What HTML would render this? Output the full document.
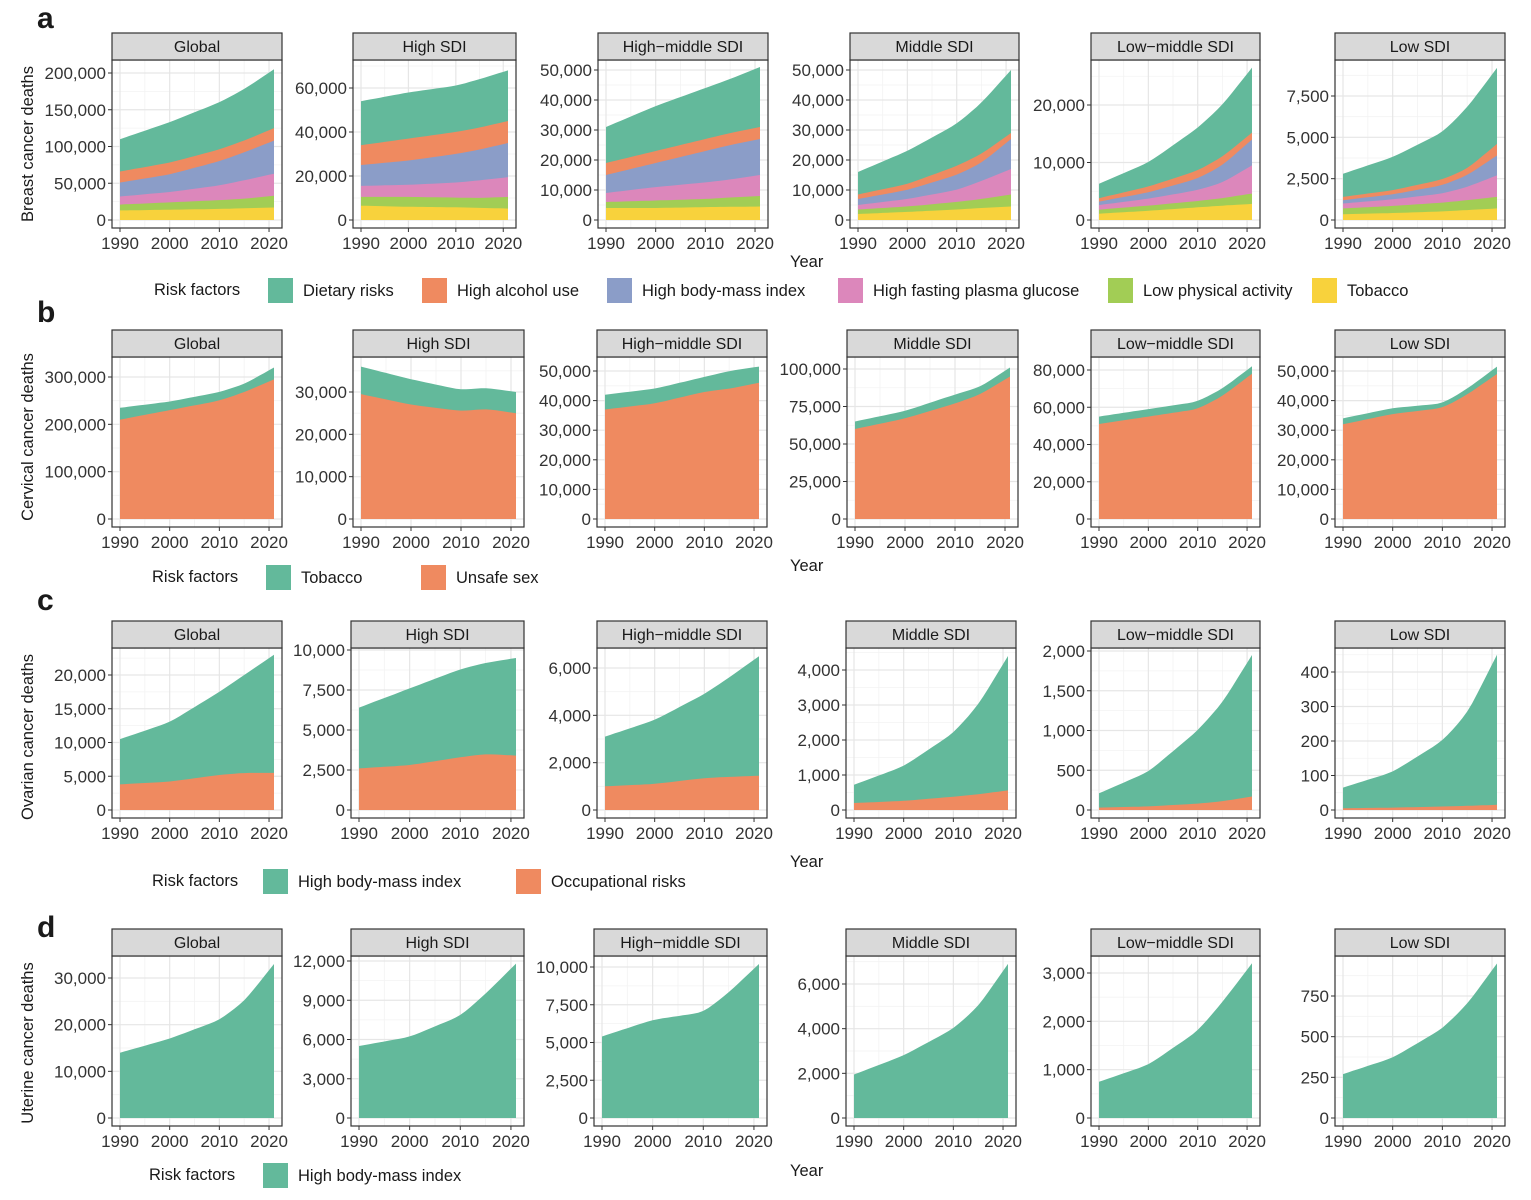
<!DOCTYPE html>
<html><head><meta charset="utf-8"><style>
body{margin:0;background:#fff;}
svg{display:block;font-family:"Liberation Sans",Arial,sans-serif;}
</style></head><body>
<svg id="s" width="1531" height="1200" viewBox="0 0 1531 1200" xmlns="http://www.w3.org/2000/svg"></svg>
<script>
var C={diet:"#63b99b",alc:"#ef8a60",bmi:"#8b9dc8",fpg:"#dc87bb",lpa:"#a2cd55",tob:"#f8d23c",uns:"#ef8a60",occ:"#ef8a60",grn:"#63b99b"};
var AY=[1990,2000,2010,2015,2021];
function series(v){var out=[];for(var y=1990;y<=2021;y++){var i=0;while(i<AY.length-2&&y>AY[i+1])i++;var t=(y-AY[i])/(AY[i+1]-AY[i]);out.push(v[i]+(v[i+1]-v[i])*t);}
for(var r=0;r<2;r++){var n=out.slice();for(var j=1;j<out.length-1;j++)n[j]=(out[j-1]+out[j]+out[j+1])/3;out=n;}return out;}
var svg="";
function fmt(v){return v.toLocaleString("en-US");}
function panel(x0,x1,yt,yb,title,T,P,step,maxT,layers){
 var yz=yb-8,k=(yz-P)/T,st=yt-27;
 var xs=x0+8,xe=x1-8,px=(xe-xs)/31;
 var g="";
 g+='<rect x="'+x0+'" y="'+yt+'" width="'+(x1-x0)+'" height="'+(yb-yt)+'" fill="#fff"/>';
 for(var v=step/2;yz-v*k>yt;v+=step){var yy=yz-v*k;g+='<line x1="'+x0+'" x2="'+x1+'" y1="'+yy+'" y2="'+yy+'" stroke="#f3f3f3" stroke-width="0.8"/>';}
 [1995,2005,2015].forEach(function(y){var xx=xs+(y-1990)*px;g+='<line x1="'+xx+'" x2="'+xx+'" y1="'+yt+'" y2="'+yb+'" stroke="#f3f3f3" stroke-width="0.8"/>';});
 for(var v=0;v<=maxT;v+=step){var yy=yz-v*k;g+='<line x1="'+x0+'" x2="'+x1+'" y1="'+yy+'" y2="'+yy+'" stroke="#e6e6e6" stroke-width="1.2"/>';}
 [1990,2000,2010,2020].forEach(function(y){var xx=xs+(y-1990)*px;g+='<line x1="'+xx+'" x2="'+xx+'" y1="'+yt+'" y2="'+yb+'" stroke="#e6e6e6" stroke-width="1.2"/>';});
 for(var L=layers.length-1;L>=0;L--){var s=series(layers[L][1]);var d="M"+xs+","+yz;
  for(var i=0;i<32;i++)d+=" L"+(xs+i*px).toFixed(1)+","+(yz-s[i]*k).toFixed(1);
  d+=" L"+xe+","+yz+" Z";g+='<path d="'+d+'" fill="'+layers[L][0]+'"/>';}
 g+='<rect x="'+x0+'" y="'+yt+'" width="'+(x1-x0)+'" height="'+(yb-yt)+'" fill="none" stroke="#333" stroke-width="1.2"/>';
 g+='<rect x="'+x0+'" y="'+st+'" width="'+(x1-x0)+'" height="27" fill="#d9d9d9" stroke="#333" stroke-width="1.2"/>';
 g+='<text x="'+((x0+x1)/2)+'" y="'+(st+19)+'" font-size="16" text-anchor="middle" fill="#1a1a1a">'+title+'</text>';
 for(var v=0;v<=maxT;v+=step){var yy=yz-v*k;g+='<line x1="'+(x0-4)+'" x2="'+x0+'" y1="'+yy+'" y2="'+yy+'" stroke="#333"/>';
  g+='<text x="'+(x0-6)+'" y="'+(yy+6)+'" font-size="17" text-anchor="end" fill="#333">'+fmt(v)+'</text>';}
 [1990,2000,2010,2020].forEach(function(y){var xx=xs+(y-1990)*px;g+='<line x1="'+xx+'" x2="'+xx+'" y1="'+yb+'" y2="'+(yb+4)+'" stroke="#333"/>';
  g+='<text x="'+xx+'" y="'+(yb+21)+'" font-size="17" text-anchor="middle" fill="#333">'+y+'</text>';});
 svg+=g;
}
function cum(cols,arr){return arr.map(function(a,i){return [cols[i],a];});}
var A=["tob","lpa","fpg","bmi","alc","diet"].map(function(c){return C[c];});
function T6(rows){var out=[];for(var l=0;l<6;l++){out.push(rows.map(function(r){return r[l];}));}return out;}
var ra=[[112,282],[353,516],[598,768],[850,1019],[1091,1260],[1335,1505]];
var titles=["Global","High SDI","High\u2212middle SDI","Middle SDI","Low\u2212middle SDI","Low SDI"];
var aData=[
 [[13,21,32,51,66,110],[14,24,38,62,78,133],[15,27,47,80,96,160],[16,29,54,92,108,178],[17,33,63,108,125,205]],
 [[6.5,10.5,15.5,25,34,54],[6,10.5,16,27,37,58],[5.8,10.2,17,30,40,61],[5.5,10,18,32,42,64],[5.2,10.5,19.5,35,45,68]],
 [[4,6,9,15,19,31],[4,6.5,11,19,23,38],[4.3,7,12.5,23,27,44],[4.4,7.5,13.5,25,29,47],[4.5,8,15,27,31,51]],
 [[2,3.5,5,7,8.5,16],[2.7,4.5,7,10,12,23],[3.5,6,10,15,18,32],[4,7,13,19,22,39],[4.5,8.5,17,27,29,50]],
 [[1.1,1.8,2.6,3.2,3.8,6.3],[1.6,2.5,3.7,4.8,5.8,10],[2.2,3.3,5.2,7.2,8.6,16],[2.5,3.8,6.5,9.5,11,20],[2.8,4.6,9.5,14,15.2,26.5]],
 [[.35,.7,1,1.2,1.4,2.8],[.42,.85,1.25,1.55,1.8,3.8],[.52,1.05,1.6,2.1,2.45,5.3],[.6,1.2,2,2.7,3.1,6.8],[.7,1.4,2.7,3.9,4.6,9.2]]];
var aAx=[[200000,73,50000,200000],[60000,88,20000,60000],[50000,70,10000,50000],[50000,70,10000,50000],[20000,105,10000,20000],[7500,96,2500,7500]];
for(var i=0;i<6;i++){var rows=aData[i].map(function(r){return r.map(function(v){return v*1000;});});
 panel(ra[i][0],ra[i][1],60,228,titles[i],aAx[i][0],aAx[i][1],aAx[i][2],aAx[i][3],cum(A,T6(rows)));}
var rb=[[112,282],[353,524],[597,767],[847,1018],[1091,1260],[1335,1505]];
var bData=[[[210,230,250,268,295],[235,248,268,285,320]],[[29.5,27,25.5,26,25],[36,33,30.5,31,30]],[[37,39,43,44,46],[42,44,48,50,51.5]],
 [[60,67,77,83,95],[65,72,83,88,101]],[[51,55,59,66,78],[55,59,63,70,82]],[[32,35.5,37.5,42,49],[34,37.5,39,44,51.5]]];
var bAx=[[300000,377,100000,300000],[30000,392,10000,30000],[50000,371,10000,50000],[100000,369,25000,100000],[80000,370,20000,80000],[50000,371,10000,50000]];
for(var i=0;i<6;i++){var d=bData[i].map(function(r){return r.map(function(v){return v*1000;});});
 panel(rb[i][0],rb[i][1],357,527,titles[i],bAx[i][0],bAx[i][1],bAx[i][2],bAx[i][3],[[C.uns,d[0]],[C.grn,d[1]]]);}
var rc=[[112,282],[351,524],[597,767],[846,1016],[1091,1260],[1335,1505]];
var cData=[[[3800,4200,5200,5500,5500],[10500,13000,17500,20000,23000]],[[2600,2800,3300,3500,3400],[6400,7600,8800,9200,9500]],
 [[1000,1100,1350,1400,1450],[3100,3800,4900,5600,6500]],[[200,260,380,450,560],[720,1250,2200,3000,4400]],
 [[30,45,80,110,170],[210,480,1000,1350,1950]],[[5,7,10,12,15],[65,110,200,280,450]]];
var cAx=[[20000,675,5000,20000],[10000,650,2500,10000],[6000,668,2000,6000],[4000,670,1000,4000],[2000,651,500,2000],[400,672,100,400]];
for(var i=0;i<6;i++){panel(rc[i][0],rc[i][1],648,818,titles[i],cAx[i][0],cAx[i][1],cAx[i][2],cAx[i][3],[[C.occ,cData[i][0]],[C.grn,cData[i][1]]]);}
var rd=[[112,282],[351,524],[594,767],[846,1016],[1091,1260],[1335,1505]];
var dData=[[14000,17000,21000,25000,33000],[5500,6200,7800,9500,11800],[5400,6500,7000,8300,10200],[1950,2800,4000,5000,6900],[750,1100,1800,2400,3200],[270,370,550,700,950]];
var dAx=[[30000,978,10000,30000],[12000,961,3000,12000],[10000,967,2500,10000],[6000,984,2000,6000],[3000,973,1000,3000],[750,996,250,750]];
for(var i=0;i<6;i++){panel(rd[i][0],rd[i][1],956,1126,titles[i],dAx[i][0],dAx[i][1],dAx[i][2],dAx[i][3],[[C.grn,dData[i]]]);}
function t(x,y,s,sz,extra){svg+='<text x="'+x+'" y="'+y+'" font-size="'+sz+'" fill="#1a1a1a" '+(extra||"")+'>'+s+'</text>';}
t(37,28,"a",30,'font-weight="bold"');t(37,322,"b",30,'font-weight="bold"');t(37,610,"c",30,'font-weight="bold"');t(37,937,"d",30,'font-weight="bold"');
[["Breast cancer deaths",144],["Cervical cancer deaths",437],["Ovarian cancer deaths",737],["Uterine cancer deaths",1043]].forEach(function(a){
 svg+='<text transform="translate(33,'+a[1]+') rotate(-90)" font-size="16.5" text-anchor="middle" fill="#1a1a1a">'+a[0]+'</text>';});
[267,571,867,1176].forEach(function(y){t(790,y,"Year",16.5);});
function leg(y,items){t(items[0],y+17,"Risk factors",16.5);for(var i=1;i<items.length;i++){var it=items[i];
 svg+='<rect x="'+it[0]+'" y="'+(y)+'" width="25" height="25" fill="'+it[1]+'"/>';t(it[0]+35,y+18,it[2],16.5);}}
leg(278,[154,[268,C.diet,"Dietary risks"],[422,C.alc,"High alcohol use"],[607,C.bmi,"High body-mass index"],[838,C.fpg,"High fasting plasma glucose"],[1108,C.lpa,"Low physical activity"],[1312,C.tob,"Tobacco"]]);
leg(565,[152,[266,C.grn,"Tobacco"],[421,C.uns,"Unsafe sex"]]);
leg(869,[152,[263,C.grn,"High body-mass index"],[516,C.occ,"Occupational risks"]]);
leg(1163,[149,[263,C.grn,"High body-mass index"]]);
document.getElementById("s").innerHTML=svg;
</script>
</body></html>
